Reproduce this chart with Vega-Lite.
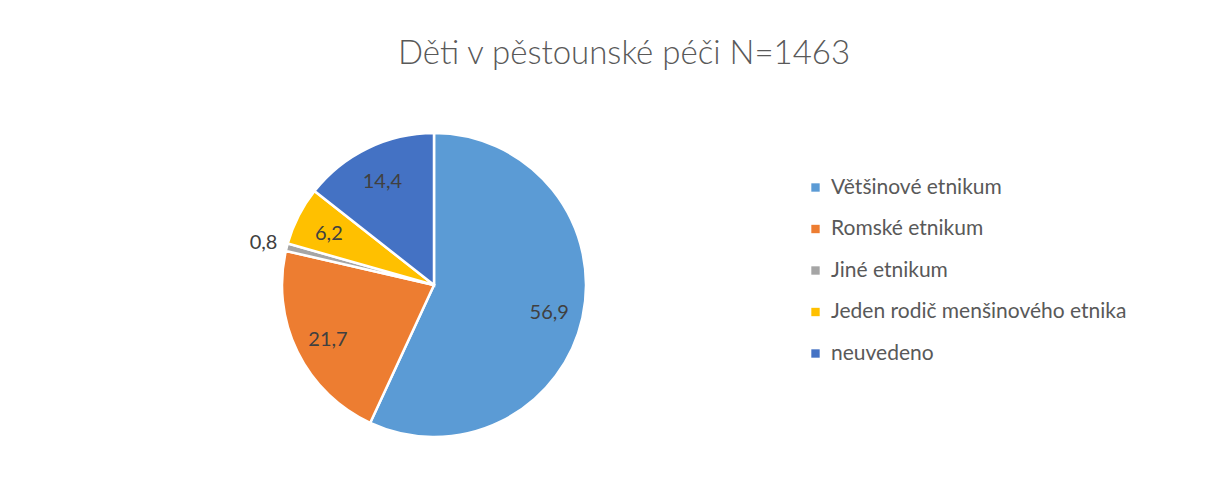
{
  "$schema": "https://vega.github.io/schema/vega-lite/v6.json",
  "autosize": {"type": "none"},
  "width": 868,
  "height": 406,
  "padding": {"left": 0, "top": 82, "right": 353, "bottom": 3},
  "background": "white",
  "config": {
    "view": {"stroke": null},
    "locale": {"number": {"decimal": ",", "thousands": " ", "grouping": [3], "currency": ["", " Kč"]}},
    "font": "Lato"
  },
  "title": {
    "text": "Děti v pěstounské péči N=1463",
    "fontSize": 33,
    "font": "Lato",
    "fontWeight": 300,
    "color": "#595959",
    "anchor": "middle",
    "dx": 190,
    "offset": 11
  },
  "data": {
    "values": [
      {"kategorie": "Většinové etnikum", "podil": 56.9, "poradi": 1},
      {"kategorie": "Romské etnikum", "podil": 21.7, "poradi": 2},
      {"kategorie": "Jiné etnikum", "podil": 0.8, "poradi": 3},
      {"kategorie": "Jeden rodič menšinového etnika", "podil": 6.2, "poradi": 4},
      {"kategorie": "neuvedeno", "podil": 14.4, "poradi": 5}
    ]
  },
  "encoding": {
    "theta": {"field": "podil", "type": "quantitative", "stack": true},
    "order": {"field": "poradi", "type": "quantitative", "sort": "ascending"}
  },
  "layer": [
    {
      "mark": {"type": "arc", "outerRadius": 152, "stroke": "white", "strokeWidth": 2.5},
      "encoding": {
        "color": {
          "field": "kategorie",
          "type": "nominal",
          "sort": null,
          "scale": {
            "domain": ["Většinové etnikum", "Romské etnikum", "Jiné etnikum", "Jeden rodič menšinového etnika", "neuvedeno"],
            "range": ["#5B9BD5", "#ED7D31", "#A5A5A5", "#FFC000", "#4472C4"]
          },
          "legend": {
            "title": null,
            "orient": "none",
            "legendX": 805,
            "legendY": 95,
            "symbolType": "square",
            "symbolSize": 70,
            "symbolStrokeWidth": 0,
            "labelFontSize": 21,
            "labelFont": "Lato",
            "labelColor": "#595959",
            "labelOffset": 5,
            "rowPadding": 19.5,
            "labelLimit": 400
          }
        }
      }
    },
    {
      "mark": {"type": "text", "radius": 118, "fontSize": 20, "font": "Lato", "color": "#404040", "dy": 3},
      "encoding": {
        "text": {
          "condition": {"test": "datum.podil < 1", "value": ""},
          "field": "podil",
          "type": "quantitative",
          "format": ".1f"
        }
      }
    },
    {
      "mark": {"type": "text", "radius": 176, "fontSize": 20, "font": "Lato", "color": "#404040", "dy": 2},
      "encoding": {
        "text": {
          "condition": {"test": "datum.podil >= 1", "value": ""},
          "field": "podil",
          "type": "quantitative",
          "format": ".1f"
        }
      }
    }
  ]
}
